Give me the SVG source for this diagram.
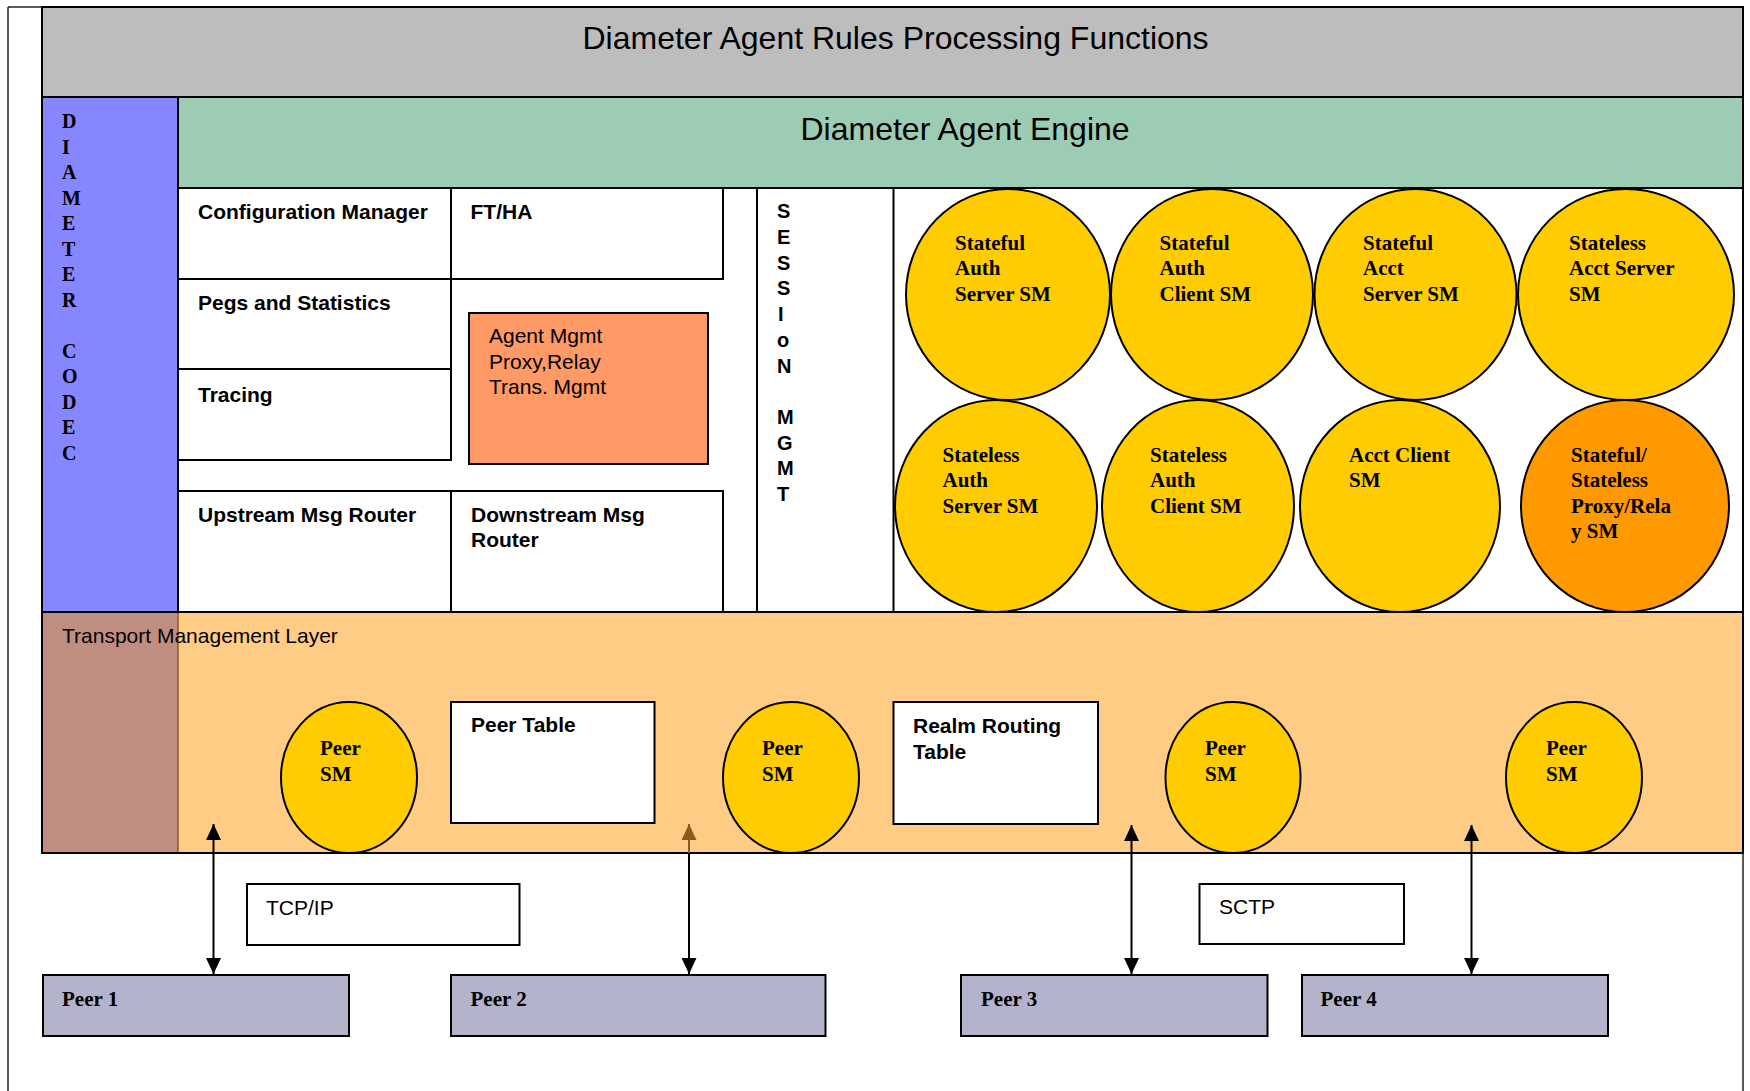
<svg xmlns="http://www.w3.org/2000/svg" width="1750" height="1091" viewBox="0 0 1750 1091">
  <defs>
    <style>
      .box { stroke: #000; stroke-width: 2; }
      .white { fill: #fff; }
      .lbl { font-family: "Liberation Sans", Arial, sans-serif; font-size: 21px; font-weight: bold; fill: #000; }
      .reg { font-family: "Liberation Sans", Arial, sans-serif; font-size: 21px; fill: #000; }
      .big { font-family: "Liberation Sans", Arial, sans-serif; font-size: 32px; fill: #000; }
      .sm { font-family: "Liberation Serif", "Times New Roman", serif; font-size: 21px; font-weight: bold; fill: #000; }
      .codec { font-family: "Liberation Serif", "Times New Roman", serif; font-size: 20px; font-weight: bold; fill: #000; }
      .sess { font-family: "Liberation Sans", Arial, sans-serif; font-size: 20px; font-weight: bold; fill: #000; }
      .circ { fill: #FFCC00; stroke: #000; stroke-width: 2; }
      .peer { fill: #B3B3CC; stroke: #000; stroke-width: 2; }
      .conn { stroke: #000; stroke-width: 2; fill: none; }
    </style>
    <marker id="head" markerUnits="userSpaceOnUse" markerWidth="16" markerHeight="16" refX="16" refY="7.5" orient="auto-start-reverse">
      <path d="M0,0 L16,7.5 L0,15 Z" fill="#000"/>
    </marker>
    <marker id="headBrown" markerUnits="userSpaceOnUse" markerWidth="16" markerHeight="16" refX="16" refY="7.5" orient="auto">
      <path d="M0,0 L16,7.5 L0,15 Z" fill="#8C5A1E"/>
    </marker>
  </defs>

  <rect x="0" y="0" width="1750" height="1091" fill="#fff"/>

  <!-- page frame -->
  <g id="frame" fill="none" stroke="#222" stroke-width="1.5">
    <line x1="8" y1="7" x2="8" y2="1091"/>
    <line x1="8" y1="7" x2="1743" y2="7"/>
    <line x1="1743" y1="7" x2="1743" y2="1091"/>
  </g>

  <!-- rules processing header -->
  <g id="rules-processing">
    <rect class="box" x="42" y="7" width="1701" height="90" fill="#BDBDBD"/>
    <text class="big" x="582.5" y="48.5">Diameter Agent Rules Processing Functions</text>
  </g>

  <!-- codec column -->
  <g id="diameter-codec">
    <rect class="box" x="42" y="97" width="136" height="515" fill="#8686FF"/>
    <text class="codec">
      <tspan x="62" y="128.3">D</tspan>
      <tspan x="62" y="153.8">I</tspan>
      <tspan x="62" y="179.3">A</tspan>
      <tspan x="62" y="204.8">M</tspan>
      <tspan x="62" y="230.3">E</tspan>
      <tspan x="62" y="255.8">T</tspan>
      <tspan x="62" y="281.3">E</tspan>
      <tspan x="62" y="306.8">R</tspan>
      <tspan x="62" y="357.8">C</tspan>
      <tspan x="62" y="383.3">O</tspan>
      <tspan x="62" y="408.8">D</tspan>
      <tspan x="62" y="434.3">E</tspan>
      <tspan x="62" y="459.8">C</tspan>
    </text>
  </g>

  <!-- engine banner -->
  <g id="agent-engine">
    <rect class="box" x="178" y="97" width="1565" height="91" fill="#9CCCB4"/>
    <text class="big" x="800.5" y="139.5">Diameter Agent Engine</text>
  </g>

  <!-- engine body background -->
  <rect class="box white" x="178" y="188" width="1565" height="424"/>

  <g id="config-manager">
    <rect class="box white" x="178" y="188" width="273" height="91"/>
    <text class="lbl" x="198" y="219">Configuration Manager</text>
  </g>
  <g id="ft-ha">
    <rect class="box white" x="451" y="188" width="272" height="91"/>
    <text class="lbl" x="470.5" y="219">FT/HA</text>
  </g>
  <g id="pegs-statistics">
    <rect class="box white" x="178" y="279" width="273" height="90"/>
    <text class="lbl" x="198" y="309.5">Pegs and Statistics</text>
  </g>
  <g id="tracing">
    <rect class="box white" x="178" y="369" width="273" height="91"/>
    <text class="lbl" x="198" y="401.5">Tracing</text>
  </g>
  <g id="agent-mgmt">
    <rect class="box" x="469" y="313" width="239" height="151" fill="#FF9966"/>
    <text class="reg">
      <tspan x="489" y="343.3">Agent Mgmt</tspan>
      <tspan x="489" y="369.3">Proxy,Relay</tspan>
      <tspan x="489" y="394.3">Trans. Mgmt</tspan>
    </text>
  </g>
  <g id="upstream-router">
    <rect class="box white" x="178" y="491" width="273" height="121"/>
    <text class="lbl" x="198" y="521.7">Upstream Msg Router</text>
  </g>
  <g id="downstream-router">
    <rect class="box white" x="451" y="491" width="272" height="121"/>
    <text class="lbl">
      <tspan x="471" y="521.7">Downstream Msg</tspan>
      <tspan x="471" y="546.5">Router</tspan>
    </text>
  </g>

  <g id="session-mgmt">
    <rect class="box white" x="757" y="188" width="136.5" height="424"/>
    <text class="sess">
      <tspan x="777" y="218.3">S</tspan>
      <tspan x="777" y="244">E</tspan>
      <tspan x="777" y="269.7">S</tspan>
      <tspan x="777" y="295.4">S</tspan>
      <tspan x="778" y="321">I</tspan>
      <tspan x="777" y="346.8">o</tspan>
      <tspan x="777" y="372.5">N</tspan>
      <tspan x="777" y="424">M</tspan>
      <tspan x="777" y="449.6">G</tspan>
      <tspan x="777" y="475.3">M</tspan>
      <tspan x="777" y="501">T</tspan>
    </text>
  </g>

  <!-- session state machines -->
  <g id="stateful-auth-server-sm">
    <ellipse class="circ" cx="1008" cy="294.5" rx="102" ry="105.5"/>
    <text class="sm"><tspan x="955" y="250">Stateful</tspan><tspan x="955" y="275.3">Auth</tspan><tspan x="955" y="300.6">Server SM</tspan></text>
  </g>
  <g id="stateful-auth-client-sm">
    <ellipse class="circ" cx="1212" cy="294.5" rx="101" ry="105.5"/>
    <text class="sm"><tspan x="1159.5" y="250">Stateful</tspan><tspan x="1159.5" y="275.3">Auth</tspan><tspan x="1159.5" y="300.6">Client SM</tspan></text>
  </g>
  <g id="stateful-acct-server-sm">
    <ellipse class="circ" cx="1415.5" cy="294.5" rx="101" ry="105.5"/>
    <text class="sm"><tspan x="1363" y="250">Stateful</tspan><tspan x="1363" y="275.3">Acct</tspan><tspan x="1363" y="300.6">Server SM</tspan></text>
  </g>
  <g id="stateless-acct-server-sm">
    <ellipse class="circ" cx="1626" cy="294.5" rx="108" ry="105.5"/>
    <text class="sm"><tspan x="1569" y="250">Stateless</tspan><tspan x="1569" y="275.3">Acct Server</tspan><tspan x="1569" y="300.6">SM</tspan></text>
  </g>
  <g id="stateless-auth-server-sm">
    <ellipse class="circ" cx="996" cy="506" rx="101" ry="106"/>
    <text class="sm"><tspan x="942.5" y="461.7">Stateless</tspan><tspan x="942.5" y="487">Auth</tspan><tspan x="942.5" y="512.5">Server SM</tspan></text>
  </g>
  <g id="stateless-auth-client-sm">
    <ellipse class="circ" cx="1198" cy="506" rx="96" ry="106"/>
    <text class="sm"><tspan x="1150" y="461.7">Stateless</tspan><tspan x="1150" y="487">Auth</tspan><tspan x="1150" y="512.5">Client SM</tspan></text>
  </g>
  <g id="acct-client-sm">
    <ellipse class="circ" cx="1400" cy="506" rx="100" ry="106"/>
    <text class="sm"><tspan x="1349" y="461.7">Acct Client</tspan><tspan x="1349" y="487">SM</tspan></text>
  </g>
  <g id="proxy-relay-sm">
    <ellipse class="circ" cx="1625" cy="506" rx="104" ry="106" fill="#FF9900" style="fill:#FF9900"/>
    <text class="sm"><tspan x="1571" y="461.7">Stateful/</tspan><tspan x="1571" y="487">Stateless</tspan><tspan x="1571" y="512.5">Proxy/Rela</tspan><tspan x="1571" y="538">y SM</tspan></text>
  </g>

  <!-- transport layer -->
  <g id="transport-layer">
    <rect class="box" x="42" y="612" width="1701" height="241" fill="#FFCC85"/>
    <rect x="43" y="613" width="135" height="239" fill="#C08E80"/>
    <line x1="178" y1="613" x2="178" y2="852" stroke="#8C5A1E" stroke-width="1.5"/>
    <text class="reg" x="62" y="643.3">Transport Management Layer</text>
  </g>

  <g id="peer-sm-1">
    <ellipse class="circ" cx="349" cy="777.5" rx="68" ry="75.5"/>
    <text class="sm"><tspan x="320" y="755">Peer</tspan><tspan x="320" y="781">SM</tspan></text>
  </g>
  <g id="peer-table">
    <rect class="box white" x="451" y="702" width="203.5" height="121"/>
    <text class="lbl" x="471" y="732">Peer Table</text>
  </g>
  <g id="peer-sm-2">
    <ellipse class="circ" cx="791" cy="777.5" rx="68" ry="75.5"/>
    <text class="sm"><tspan x="762" y="755">Peer</tspan><tspan x="762" y="781">SM</tspan></text>
  </g>
  <g id="realm-routing-table">
    <rect class="box white" x="893.5" y="702" width="204.5" height="122"/>
    <text class="lbl"><tspan x="913" y="733">Realm Routing</tspan><tspan x="913" y="759">Table</tspan></text>
  </g>
  <g id="peer-sm-3">
    <ellipse class="circ" cx="1233" cy="777.5" rx="67.5" ry="75.5"/>
    <text class="sm"><tspan x="1205" y="755">Peer</tspan><tspan x="1205" y="781">SM</tspan></text>
  </g>
  <g id="peer-sm-4">
    <ellipse class="circ" cx="1574" cy="777.5" rx="68" ry="75.5"/>
    <text class="sm"><tspan x="1546" y="755">Peer</tspan><tspan x="1546" y="781">SM</tspan></text>
  </g>

  <!-- transport protocols -->
  <g id="tcp-ip">
    <rect class="box white" x="247" y="884" width="272.5" height="61"/>
    <text class="reg" x="266" y="915">TCP/IP</text>
  </g>
  <g id="sctp">
    <rect class="box white" x="1199.5" y="884" width="204.5" height="60"/>
    <text class="reg" x="1219" y="914">SCTP</text>
  </g>

  <!-- remote peers -->
  <g id="peer-1">
    <rect class="peer" x="43" y="975" width="306" height="61"/>
    <text class="sm" x="62" y="1005.5">Peer 1</text>
  </g>
  <g id="peer-2">
    <rect class="peer" x="451" y="975" width="374.5" height="61"/>
    <text class="sm" x="470.5" y="1005.5">Peer 2</text>
  </g>
  <g id="peer-3">
    <rect class="peer" x="961" y="975" width="306.5" height="61"/>
    <text class="sm" x="981" y="1005.5">Peer 3</text>
  </g>
  <g id="peer-4">
    <rect class="peer" x="1302" y="975" width="306" height="61"/>
    <text class="sm" x="1320.5" y="1005.5">Peer 4</text>
  </g>

  <!-- peer links -->
  <g id="connectors">
    <line class="conn" x1="213.5" y1="824" x2="213.5" y2="974" marker-start="url(#head)" marker-end="url(#head)"/>
    <line x1="689" y1="853" x2="689" y2="824" stroke="#8C5A1E" stroke-width="2" marker-end="url(#headBrown)"/>
    <line class="conn" x1="689" y1="853" x2="689" y2="974" marker-end="url(#head)"/>
    <line class="conn" x1="1131.5" y1="825" x2="1131.5" y2="974" marker-start="url(#head)" marker-end="url(#head)"/>
    <line class="conn" x1="1471.5" y1="825" x2="1471.5" y2="974" marker-start="url(#head)" marker-end="url(#head)"/>
  </g>
</svg>
